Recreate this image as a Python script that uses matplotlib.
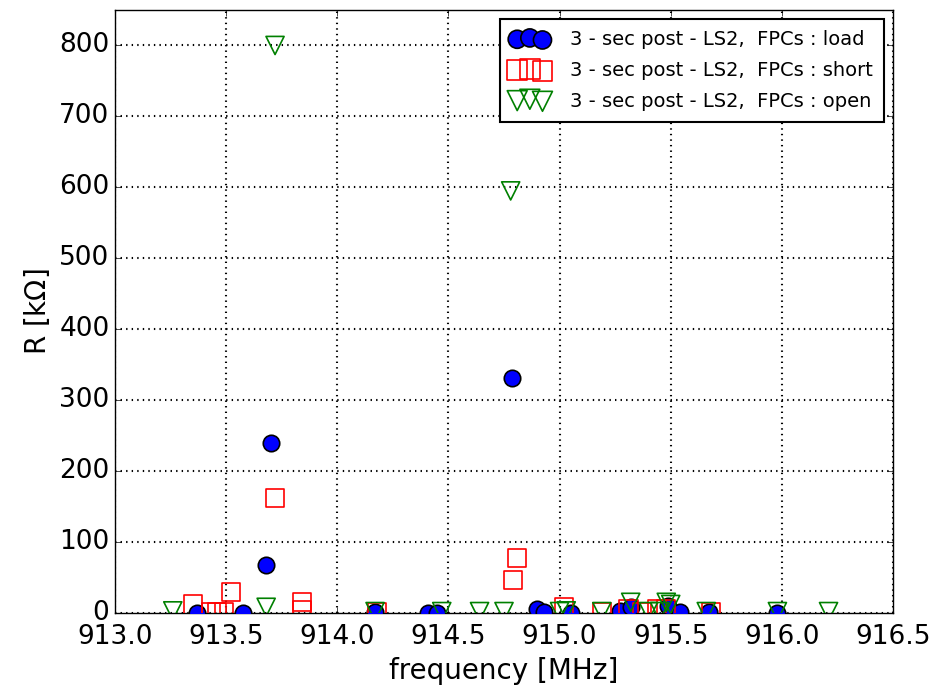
import matplotlib
matplotlib.use("Agg")
import matplotlib.pyplot as plt

# 3-sec post-LS2, FPCs: load
load_f = [913.37, 913.575, 913.68, 913.70, 914.17, 914.41, 914.45, 914.785,
          914.90, 914.93, 915.05, 915.27, 915.32, 915.49, 915.54, 915.67, 915.98]
load_r = [0, 0, 67, 240, 1, 0, 0, 331, 5, 2, 0, 3, 8, 10, 2, 1, 0]

# 3-sec post-LS2, FPCs: short
short_f = [913.35, 913.43, 913.46, 913.49, 913.52, 913.72, 913.84, 913.84,
           914.18, 914.79, 914.81, 915.02, 915.19, 915.31, 915.37, 915.44,
           915.48, 915.68]
short_r = [12, 2, 2, 2, 30, 162, 15, 4, 2, 46, 77, 9, 2, 5, 2, 6, 6, 2]

# 3-sec post-LS2, FPCs: open
open_f = [913.26, 913.68, 913.72, 914.17, 914.47, 914.64, 914.75, 914.78,
          915.00, 915.03, 915.19, 915.32, 915.40, 915.45, 915.48, 915.50,
          915.66, 915.98, 916.21]
open_r = [3, 8, 800, 2, 2, 2, 2, 595, 2, 3, 2, 15, 2, 2, 15, 12, 2, 2, 2]

xticks = [913.0, 913.5, 914.0, 914.5, 915.0, 915.5, 916.0, 916.5]
yticks = [0, 100, 200, 300, 400, 500, 600, 700, 800]

plt.style.use("classic")
plt.rcParams["font.family"] = "DejaVu Sans"
plt.rcParams["mathtext.fontset"] = "dejavusans"

fig = plt.figure(figsize=(9.37, 6.87), dpi=100, facecolor="white")
ax = fig.add_axes([115 / 937, 1 - 613 / 687, 778 / 937, 603 / 687])

ax.scatter(load_f, load_r, s=140, marker="o", facecolor="blue",
           edgecolor="black", linewidths=1.2, zorder=3,
           label="3 - sec post - LS2,  FPCs : load")
ax.scatter(short_f, short_r, s=170, marker="s", facecolor="none",
           edgecolor="red", linewidths=1.2, zorder=3,
           label="3 - sec post - LS2,  FPCs : short")
ax.scatter(open_f, open_r, s=170, marker="v", facecolor="none",
           edgecolor="green", linewidths=1.2, zorder=3,
           label="3 - sec post - LS2,  FPCs : open")

ax.set_xlim(913.0, 916.5)
ax.set_ylim(0, 850)
ax.set_xticks(xticks)
ax.set_xticklabels([f"{t:.1f}" for t in xticks])
ax.set_yticks(yticks)
ax.tick_params(labelsize=19)
ax.tick_params(axis="x", pad=8)
ax.grid(True, color="black", linestyle=":", linewidth=1.5)
ax.set_axisbelow(True)

ax.set_xlabel("frequency [MHz]", fontsize=20)
ax.set_ylabel(r"R [k$\Omega$]", fontsize=20)

leg = ax.legend(loc="upper right", scatterpoints=3, fontsize=14,
                scatteryoffsets=[0.45, 0.55, 0.4], markerscale=1.1,
                handlelength=1.9, handletextpad=1.1, borderaxespad=0.45,
                labelspacing=0.6, borderpad=0.6)
leg.get_frame().set_linewidth(1.5)

fig.savefig("out.png", dpi=100, facecolor="white")
